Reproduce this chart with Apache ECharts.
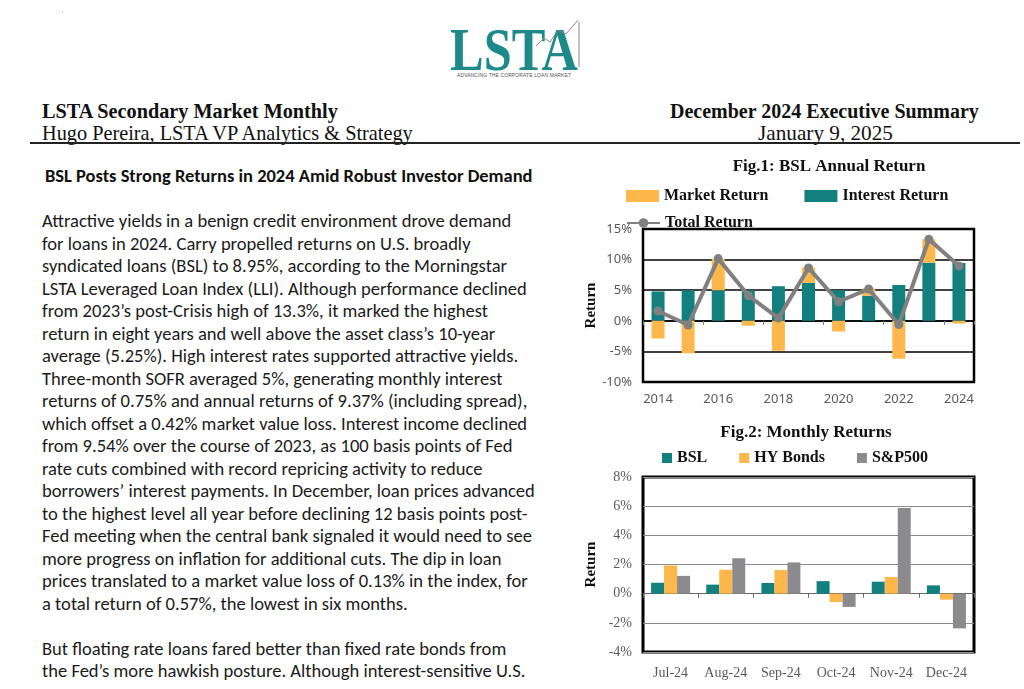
<!DOCTYPE html>
<html><head><meta charset="utf-8">
<script src="https://cdn.jsdelivr.net/npm/echarts@6/dist/echarts.min.js"></script>
<style>
html,body{margin:0;padding:0;background:#fff;width:1024px;height:689px;overflow:hidden;}
.t{position:absolute;white-space:nowrap;line-height:1;}
.serif{font-family:"Liberation Serif","Times New Roman",serif;color:#111;}
#body{position:absolute;left:42px;top:210px;font-family:Carlito,Calibri,Lato,sans-serif;color:#1b1b1b;font-size:16px;}
#body div{height:22.5px;line-height:22.5px;white-space:nowrap;}
#chart{position:absolute;left:0;top:0;width:1024px;height:689px;}
</style></head>
<body>
<!-- logo -->
<div class="t" style="left:62px;top:11px;width:1px;height:1px;background:#999"></div>
<div class="t" id="logo" style="left:450px;top:18px;font-family:'Liberation Serif',serif;font-weight:bold;font-size:62px;color:#1d8a89;transform-origin:0 0;">LSTA</div>
<svg style="position:absolute;left:0;top:0" width="1024" height="100">
  <polyline points="536,46 544,38 550,42 558,30 566,34 578,20" fill="none" stroke="#888" stroke-width="1"/>
  <line x1="579" y1="22" x2="579" y2="67" stroke="#888" stroke-width="1"/>
</svg>
<div class="t" style="left:457px;top:73px;font-family:'Liberation Sans',sans-serif;font-size:5px;color:#555;letter-spacing:0.1px;">ADVANCING THE CORPORATE LOAN MARKET</div>

<!-- header -->
<div class="t serif" id="h1" style="left:42px;top:101px;font-size:20px;font-weight:bold;">LSTA Secondary Market Monthly</div>
<div class="t serif" id="h2" style="left:42px;top:123px;font-size:20px;">Hugo Pereira, LSTA VP Analytics &amp; Strategy</div>
<div class="t serif" id="h3" style="left:670px;top:101px;font-size:20px;font-weight:bold;">December 2024 Executive Summary</div>
<div class="t serif" id="h4" style="left:758px;top:123px;font-size:20px;">January 9, 2025</div>
<div class="t" style="left:30px;top:142px;width:990px;height:2px;background:#222"></div>

<!-- headline & body -->
<div class="t" id="headline" style="left:45px;top:167px;font-family:Carlito,Calibri,Lato,sans-serif;font-weight:bold;font-size:16px;color:#111;">BSL Posts Strong Returns in 2024 Amid Robust Investor Demand</div>
<div id="body">
<div>Attractive yields in a benign credit environment drove demand</div>
<div>for loans in 2024. Carry propelled returns on U.S. broadly</div>
<div>syndicated loans (BSL) to 8.95%, according to the Morningstar</div>
<div>LSTA Leveraged Loan Index (LLI). Although performance declined</div>
<div>from 2023’s post-Crisis high of 13.3%, it marked the highest</div>
<div>return in eight years and well above the asset class’s 10-year</div>
<div>average (5.25%). High interest rates supported attractive yields.</div>
<div>Three-month SOFR averaged 5%, generating monthly interest</div>
<div>returns of 0.75% and annual returns of 9.37% (including spread),</div>
<div>which offset a 0.42% market value loss. Interest income declined</div>
<div>from 9.54% over the course of 2023, as 100 basis points of Fed</div>
<div>rate cuts combined with record repricing activity to reduce</div>
<div id="longline">borrowers’ interest payments. In December, loan prices advanced</div>
<div>to the highest level all year before declining 12 basis points post-</div>
<div>Fed meeting when the central bank signaled it would need to see</div>
<div>more progress on inflation for additional cuts. The dip in loan</div>
<div>prices translated to a market value loss of 0.13% in the index, for</div>
<div>a total return of 0.57%, the lowest in six months.</div>
<div>&nbsp;</div>
<div>But floating rate loans fared better than fixed rate bonds from</div>
<div>the Fed’s more hawkish posture. Although interest-sensitive U.S.</div>
</div>

<div id="chart"></div>
<script>
// ---- data ----
const years = ['2014','2015','2016','2017','2018','2019','2020','2021','2022','2023','2024'];
const marketReturn = [-2.9, -5.3, 5.1, -0.8, -4.9, 2.5, -1.75, 1.2, -6.2, 3.8, -0.45];
const interestReturn = [4.8, 5.0, 5.0, 5.0, 5.65, 6.2, 5.0, 4.1, 5.85, 9.5, 9.45];
const totalReturn = [1.60, -0.69, 10.16, 4.12, 0.44, 8.64, 3.12, 5.20, -0.60, 13.32, 8.95];

const months = ['Jul-24','Aug-24','Sep-24','Oct-24','Nov-24','Dec-24'];
const bslMonthly = [0.75, 0.62, 0.73, 0.86, 0.82, 0.57];
const hyMonthly = [1.93, 1.64, 1.62, -0.57, 1.14, -0.41];
const spMonthly = [1.22, 2.43, 2.14, -0.91, 5.87, -2.38];

// ---- fit text widths ----
function fit(id, target){
  const el = document.getElementById(id);
  const fs = parseFloat(getComputedStyle(el).fontSize);
  const w = el.getBoundingClientRect().width;
  el.style.fontSize = (fs * target / w) + 'px';
}
(function(){
  const body = document.getElementById('body');
  const ll = document.getElementById('longline');
  const span = document.createElement('span'); span.textContent = ll.textContent;
  ll.textContent=''; ll.appendChild(span);
  const w = span.getBoundingClientRect().width;
  body.style.fontSize = (16 * 493 / w) + 'px';
  const hl = document.getElementById('headline');
  hl.style.fontSize = (16 * 488 / hl.getBoundingClientRect().width) + 'px';
  fit('h1', 296); fit('h2', 371); fit('h3', 309); fit('h4', 135);
  const logo = document.getElementById('logo');
  logo.style.transform = 'scaleX(' + (128 / logo.getBoundingClientRect().width) + ')';
})();

const TEAL = '#12807f', ORANGE = '#fdb74a', GRAY = '#808080', SPGRAY = '#8b8b8d';
const SERIF = '"Liberation Serif","Times New Roman",serif';
const SANS = '"Noto Sans","DejaVu Sans",sans-serif';
const legendText = {fontFamily: SERIF, fontWeight: 'bold', fontSize: 16, color: '#111'};

const chart = echarts.init(document.getElementById('chart'), null, {renderer: 'canvas'});
chart.setOption({
  animation: false,
  title: [
    {text: 'Fig.1: BSL Annual Return', left: 824, top: 153, textAlign: 'center',
     textStyle: {fontFamily: SERIF, fontWeight: 'bold', fontSize: 17, color: '#111'}},
    {text: 'Fig.2: Monthly Returns', left: 801, top: 419, textAlign: 'center',
     textStyle: {fontFamily: SERIF, fontWeight: 'bold', fontSize: 17, color: '#111'}}
  ],
  legend: [
    {data: ['Market Return', 'Interest Return'], left: 621, top: 183, itemWidth: 33, itemHeight: 12,
     itemGap: 36, textStyle: legendText, icon: 'rect'},
    {data: ['Total Return'], left: 621, top: 210, itemWidth: 33, itemHeight: 12, textStyle: legendText},
    {data: ['BSL', 'HY Bonds', 'S&P500'], left: 657, top: 445, itemWidth: 10, itemHeight: 10,
     itemGap: 32, icon: 'rect', textStyle: legendText}
  ],
  grid: [
    {left: 643, top: 229, width: 331, height: 153, show: true, borderColor: '#000', borderWidth: 2.5, backgroundColor: 'transparent'},
    {left: 643, top: 477, width: 331, height: 175, show: true, borderColor: '#000', borderWidth: 3, backgroundColor: 'transparent'}
  ],
  xAxis: [
    {type: 'category', gridIndex: 0, data: years, axisLine: {show: false, onZero: false}, axisTick: {show: false},
     axisLabel: {interval: 1, margin: 11, fontFamily: SANS, fontSize: 13, color: '#595959'}},
    {type: 'category', gridIndex: 0, data: years, position: 'bottom', axisLine: {show: true, onZero: true, lineStyle: {color: '#000', width: 1.5}},
     axisTick: {show: true, length: 4, lineStyle: {color: '#777'}}, axisLabel: {show: false}},
    {type: 'category', gridIndex: 1, data: months, axisLine: {show: false, onZero: false}, axisTick: {show: false},
     axisLabel: {interval: 0, margin: 14, fontFamily: SERIF, fontSize: 14, color: '#595959'}},
    {type: 'category', gridIndex: 1, data: months, position: 'bottom', axisLine: {show: true, onZero: true, lineStyle: {color: '#666', width: 1}},
     axisTick: {show: true, length: 4, lineStyle: {color: '#666'}}, axisLabel: {show: false}}
  ],
  yAxis: [
    {type: 'value', gridIndex: 0, min: -10, max: 15, interval: 5,
     name: 'Return', nameLocation: 'middle', nameGap: 44, nameRotate: 90,
     nameTextStyle: {fontFamily: SERIF, fontWeight: 'bold', fontSize: 15, color: '#111'},
     axisLine: {show: false}, axisTick: {show: false},
     axisLabel: {formatter: '{value}%', margin: 11, fontFamily: SANS, fontSize: 13, color: '#595959'},
     splitLine: {lineStyle: {color: '#000', width: 1.5}}},
    {type: 'value', gridIndex: 1, min: -4, max: 8, interval: 2,
     name: 'Return', nameLocation: 'middle', nameGap: 44, nameRotate: 90,
     nameTextStyle: {fontFamily: SERIF, fontWeight: 'bold', fontSize: 15, color: '#111'},
     axisLine: {show: false}, axisTick: {show: false},
     axisLabel: {formatter: '{value}%', margin: 11, fontFamily: SERIF, fontSize: 14, color: '#595959'},
     splitLine: {lineStyle: {color: '#8c8c8c', width: 1}}}
  ],
  series: [
    {name: 'Interest Return', type: 'bar', xAxisIndex: 0, yAxisIndex: 0, stack: 'ann', barWidth: 13,
     data: interestReturn, itemStyle: {color: TEAL}},
    {name: 'Market Return', type: 'bar', xAxisIndex: 0, yAxisIndex: 0, stack: 'ann', barWidth: 13,
     data: marketReturn, itemStyle: {color: ORANGE}},
    {name: 'Total Return', type: 'line', xAxisIndex: 0, yAxisIndex: 0, data: totalReturn,
     symbol: 'circle', symbolSize: 9, lineStyle: {color: GRAY, width: 4}, itemStyle: {color: GRAY}, z: 5},
    {name: 'BSL', type: 'bar', xAxisIndex: 2, yAxisIndex: 1, barWidth: 13, barGap: '0%',
     data: bslMonthly, itemStyle: {color: TEAL}},
    {name: 'HY Bonds', type: 'bar', xAxisIndex: 2, yAxisIndex: 1, barWidth: 13, barGap: '0%',
     data: hyMonthly, itemStyle: {color: ORANGE}},
    {name: 'S&P500', type: 'bar', xAxisIndex: 2, yAxisIndex: 1, barWidth: 13, barGap: '0%',
     data: spMonthly, itemStyle: {color: SPGRAY}}
  ]
});
</script>
</body></html>
